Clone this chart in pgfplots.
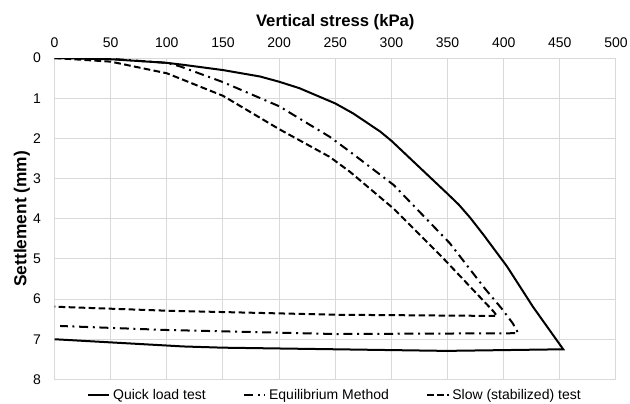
\documentclass[border=0pt]{standalone}
\usepackage{fontspec}
\setmainfont{Liberation Sans}
\usepackage{pgfplots}
\pgfplotsset{compat=1.18}
\definecolor{gridc}{HTML}{D9D9D9}
\begin{document}
\begin{tikzpicture}
\path[use as bounding box] (-40.9pt,-18.3pt) rectangle (431.5pt,284.5pt);
\begin{axis}[
  scale only axis, width=421pt, height=241pt,
  xmin=0, xmax=500, ymin=0, ymax=8, y dir=reverse,
  xtick={0,50,...,500}, ytick={0,1,...,8},
  xticklabel pos=upper,
  grid=major, grid style={draw=gridc, line width=0.75pt},
  axis line style={draw=gridc, line width=0.75pt},
  major tick length=0pt,
  /pgf/number format/assume math mode=true,
  tick label style={font=\fontsize{10.5}{12}\selectfont, inner sep=0pt},
  xticklabel style={anchor=base, yshift=8.25pt},
  yticklabel style={anchor=east, xshift=-10pt},
  xlabel={\textbf{Vertical stress (kPa)}},
  ylabel={\textbf{Settlement (mm)}},
  xlabel style={font=\fontsize{12.5}{14}\selectfont, at={(axis description cs:0.5,1)}, anchor=base, yshift=24pt, inner sep=0pt},
  ylabel style={font=\fontsize{13}{15}\selectfont, at={(axis description cs:-0.058,0.5)}, anchor=center, inner sep=0pt},
  legend columns=3,
  legend style={draw=none, fill=none, at={(axis description cs:0.5,-0.05)}, anchor=center,
    font=\fontsize{10.5}{12}\selectfont, inner sep=0pt,
    /tikz/every even column/.append style={column sep=26pt}},
  legend image code/.code={\draw[#1] (0pt,0pt) -- (16pt,0pt);},
  every axis plot/.append style={black, line width=1.5pt},
]
\addplot[solid] coordinates {
(0,0) (50,0.03) (100,0.12) (115,0.17) (150,0.30) (183,0.46) (200,0.59) (218,0.75)
(250,1.13) (266,1.38) (290,1.83) (300,2.06) (350,3.38) (360,3.65)
(370,3.97) (382,4.40) (403,5.19) (426,6.19) (453,7.25)
(349,7.29) (250,7.25) (150,7.21) (115,7.18) (0,7.00)};
\addlegendentry{Quick load test}
\addplot[dash pattern=on 6.75pt off 3.5pt on 1.5pt off 3.5pt] coordinates {
(0,0) (50,0.02) (100,0.12) (112,0.21) (150,0.60) (200,1.20) (245,1.96) (263,2.33)
(302,3.16) (352,4.61) (383,5.73) (398,6.23) (408,6.60) (413,6.85)
(250,6.87) (100,6.77) (5,6.67)};
\addlegendentry{Equilibrium Method}
\addplot[dash pattern=on 5pt off 2.5pt] coordinates {
(0,0) (50,0.09) (100,0.38) (150,0.94) (200,1.77) (245,2.46) (263,2.83) (302,3.75)
(346,4.98) (391,6.31) (394,6.42)
(250,6.39) (100,6.29) (0,6.19)};
\addlegendentry{Slow (stabilized) test}
\end{axis}
\end{tikzpicture}
\end{document}
